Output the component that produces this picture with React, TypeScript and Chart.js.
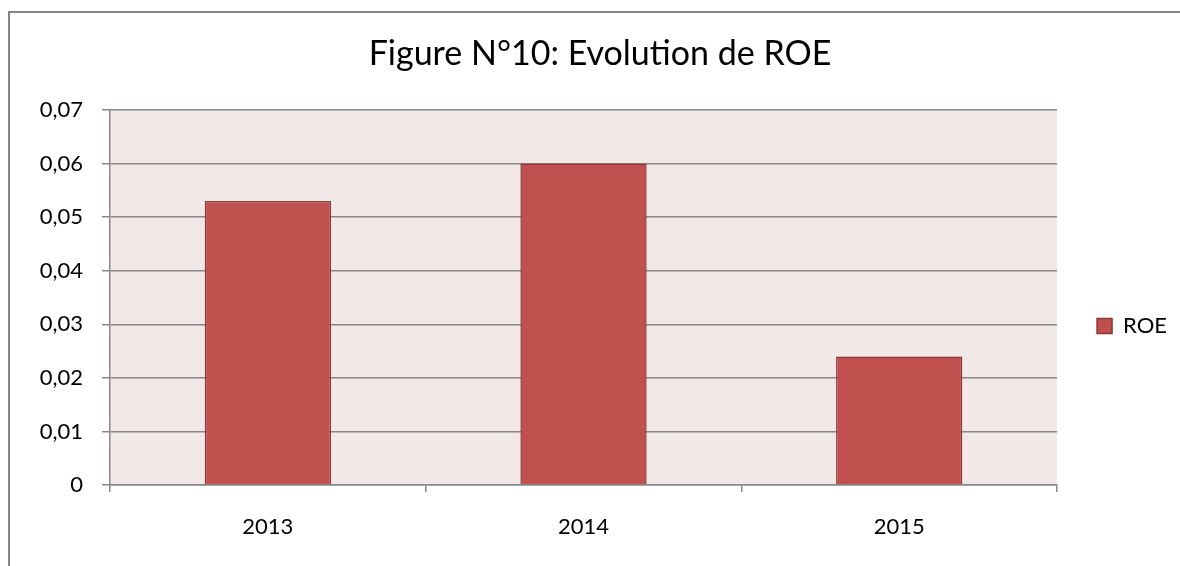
import React, { useEffect, useRef } from "react";
import { Chart, registerables } from "chart.js";

Chart.register(...registerables);

const categories = ["2013", "2014", "2015"];
const roeValues = [0.053, 0.06, 0.024];
const seriesLabel = "ROE";
const titleText = "Figure N°10: Evolution de ROE";
const yTickLabels = ["0", "0,01", "0,02", "0,03", "0,04", "0,05", "0,06", "0,07"];
const yMin = 0;
const yMax = 0.07;
const yStep = 0.01;

const FONT = "Lato, 'Open Sans', sans-serif";
const GRID = "#888888";

const plotBg = {
  id: "plotBg",
  beforeDraw(chart: any) {
    const { ctx, chartArea } = chart;
    ctx.save();
    ctx.fillStyle = "#F2E8E8";
    ctx.fillRect(chartArea.left, chartArea.top, chartArea.width, chartArea.height);
    ctx.restore();
  },
};

export default function App() {
  const ref = useRef<HTMLCanvasElement>(null);
  useEffect(() => {
    const chart = new Chart(ref.current as HTMLCanvasElement, {
      type: "bar",
      data: {
        labels: categories,
        datasets: [
          {
            label: seriesLabel,
            data: roeValues,
            backgroundColor: "#C0504D",
            borderColor: "#8C3836",
            borderWidth: 1.5,
            categoryPercentage: 1,
            barPercentage: 0.4,
          },
        ],
      },
      options: {
        animation: false,
        responsive: false,
        layout: { padding: { left: 23, top: 0, right: 3, bottom: 0 } },
        plugins: {
          title: {
            display: true,
            text: titleText,
            color: "#000",
            font: { family: FONT, size: 34, weight: "normal" },
            padding: { top: 34, bottom: 35.2 },
          },
          legend: {
            position: "right",
            maxWidth: 123,
            title: { display: true, text: " ", font: { size: 12 }, padding: { top: 0, bottom: 71.6 } },
            labels: {
              boxWidth: 15,
              boxHeight: 15,
              padding: 40,
              color: "#000",
              font: { family: FONT, size: 22 },
            },
          },
          tooltip: { enabled: false },
        },
        scales: {
          x: {
            grid: {
              drawOnChartArea: false,
              drawTicks: true,
              tickLength: 7,
              offset: true,
              color: GRID,
              lineWidth: 1.5,
            },
            border: { color: GRID, width: 1.5 },
            ticks: { color: "#000", padding: 22, font: { family: FONT, size: 22 } },
            afterFit(s: any) {
              s.height = 81;
            },
          },
          y: {
            min: yMin,
            max: yMax,
            grid: { color: GRID, lineWidth: 1.5, tickLength: 8 },
            border: { color: GRID, width: 1.5 },
            ticks: {
              stepSize: yStep,
              padding: 19,
              color: "#000",
              font: { family: FONT, size: 22 },
              callback: (_v: any, i: number) => yTickLabels[i],
            },
            afterFit(s: any) {
              s.width = 87;
            },
          },
        },
      },
      plugins: [plotBg],
    });
    return () => chart.destroy();
  }, []);

  return (
    <div style={{ position: "fixed", left: 0, top: 0, width: 1180, height: 566, background: "#fff", overflow: "hidden" }}>
      <canvas ref={ref} width={1180} height={566} style={{ position: "absolute", left: 0, top: 0 }} />
      <div
        style={{
          position: "absolute",
          left: 8,
          top: 11,
          width: 1200,
          height: 600,
          borderLeft: "2px solid #868686",
          borderTop: "2px solid #868686",
          pointerEvents: "none",
        }}
      />
    </div>
  );
}
